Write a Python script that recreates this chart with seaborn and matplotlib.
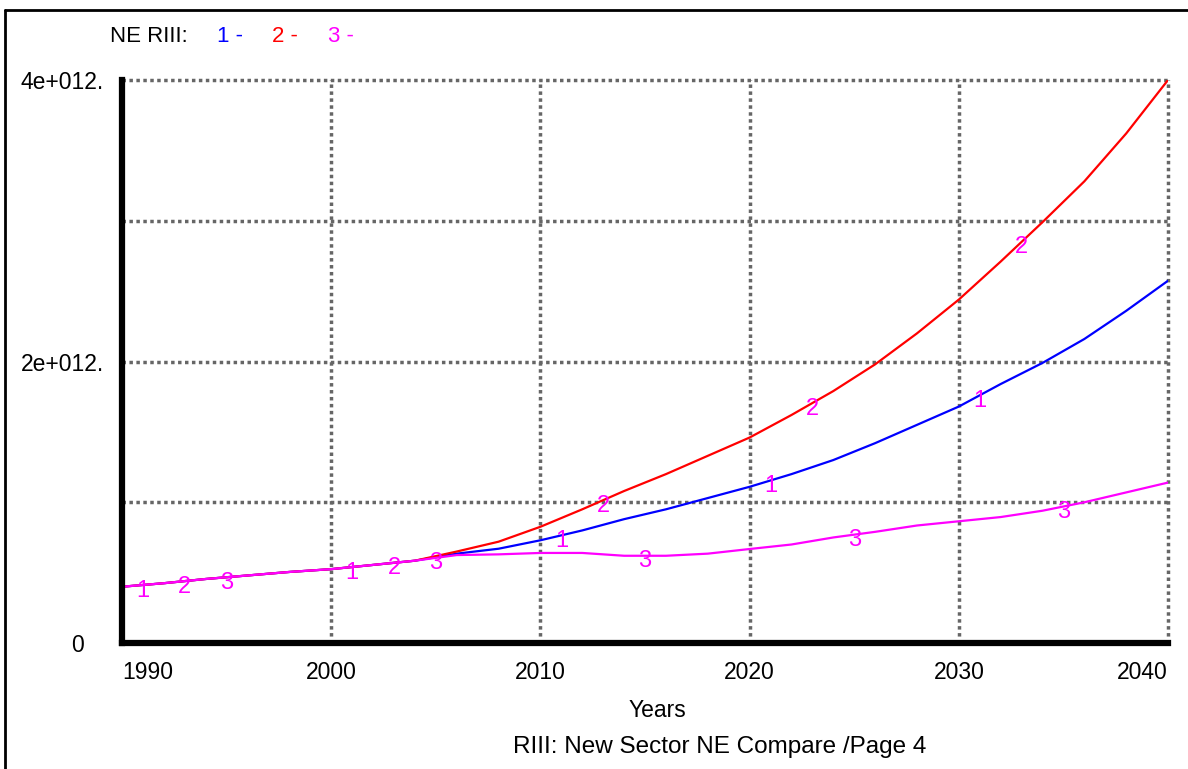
import numpy as np
import pandas as pd
import matplotlib.pyplot as plt
import seaborn as sns
from matplotlib.lines import Line2D

# values (units: 1e12)
years = [1990, 1992, 1994, 1996, 1998, 2000, 2002, 2004, 2006, 2008, 2010, 2012, 2014,
         2016, 2018, 2020, 2022, 2024, 2026, 2028, 2030, 2032, 2034, 2036, 2038, 2040]
base = [0.40, 0.425, 0.455, 0.48, 0.505, 0.525, 0.555, 0.585]
run1 = base + [0.635, 0.67, 0.73, 0.80, 0.88, 0.95, 1.03, 1.11, 1.20, 1.30, 1.42, 1.55,
               1.68, 1.84, 1.99, 2.16, 2.36, 2.574]
run2 = base + [0.65, 0.72, 0.826, 0.95, 1.08, 1.20, 1.33, 1.46, 1.62, 1.79, 1.98, 2.20,
               2.44, 2.71, 2.99, 3.28, 3.62, 4.0]
run3 = base + [0.625, 0.63, 0.64, 0.64, 0.62, 0.62, 0.635, 0.668, 0.70, 0.75, 0.79, 0.835,
               0.865, 0.895, 0.94, 1.0, 1.07, 1.14]
runs = {"1": run1, "2": run2, "3": run3}
colors = {"1": "#0000ff", "2": "#ff0000", "3": "#ff00ff"}
label_years = {"1": [1991, 2001, 2011, 2021, 2031],
               "2": [1993, 2003, 2013, 2023, 2033],
               "3": [1995, 2005, 2015, 2025, 2035]}
yticks = [0, 1e12, 2e12, 3e12, 4e12]
ytick_labels = ["0   ", "", "2e+012.", "", "4e+012."]
xticks = [1990, 2000, 2010, 2020, 2030, 2040]

df = pd.concat([pd.DataFrame({"Years": years, "value": np.array(v) * 1e12, "run": k})
                for k, v in runs.items()])

sns.set_theme(style="white")
plt.rcParams["font.family"] = ["Liberation Sans", "DejaVu Sans"]
plt.rcParams["text.color"] = "black"

fig = plt.figure(figsize=(11.88, 7.69), dpi=100)
ax = fig.add_axes([0.1027, 0.1638, 0.8805, 0.7322])

sns.lineplot(data=df, x="Years", y="value", hue="run", palette=colors,
             linewidth=1.6, legend=False, ax=ax, zorder=3)

# number markers on the curves, all drawn in magenta like the reference
for k, yrs in label_years.items():
    for yr in yrs:
        yv = np.interp(yr, years, runs[k]) * 1e12
        ax.annotate(k, (yr, yv), xytext=(0, -4), textcoords="offset points",
                    ha="center", va="center", color="#ff00ff", fontsize=17, zorder=4)

ax.set_xlim(1990, 2040)
ax.set_ylim(0, 4e12)
ax.set_xticks(xticks)
ax.set_yticks(yticks)
ax.set_yticklabels(ytick_labels)
ax.set_xticklabels([str(x) for x in xticks])
xl = ax.get_xticklabels()
xl[0].set_ha("left")
xl[-1].set_ha("right")

ax.grid(True, color="#666666", linestyle=(0, (1, 1)), linewidth=2.5)
for gl in ax.get_xgridlines() + ax.get_ygridlines():
    gl.set_clip_on(False)
ax.tick_params(axis="both", direction="out", length=10, width=2.5, color="#8a8a8a",
               labelsize=16.5, labelcolor="black", pad=3)

for side in ["top", "right"]:
    ax.spines[side].set_visible(False)
for side in ["left", "bottom"]:
    ax.spines[side].set_color("black")
    ax.spines[side].set_linewidth(4.5)
    ax.spines[side].set_zorder(5)

ax.set_xlabel("Years", fontsize=16.5, color="black")
ax.xaxis.set_label_coords(0.512, -0.100)
ax.set_ylabel("")

fig.text(0.606, 0.029, "RIII: New Sector NE Compare /Page 4", ha="center", va="center",
         fontsize=17.5)

# header legend
fig.text(0.093, 0.953, "NE RIII:", ha="left", va="center", fontsize=16)
for k, xpos in zip(["1", "2", "3"], [0.183, 0.229, 0.276]):
    fig.text(xpos, 0.953, k + " -", ha="left", va="center", fontsize=16, color=colors[k])

# outer frame (top and left edges only visible)
fig.add_artist(Line2D([0.004, 1.0], [0.987, 0.987], color="black", linewidth=2))
fig.add_artist(Line2D([0.004, 0.004], [0.0, 0.987], color="black", linewidth=2))

fig.savefig("out.png", dpi=100)
